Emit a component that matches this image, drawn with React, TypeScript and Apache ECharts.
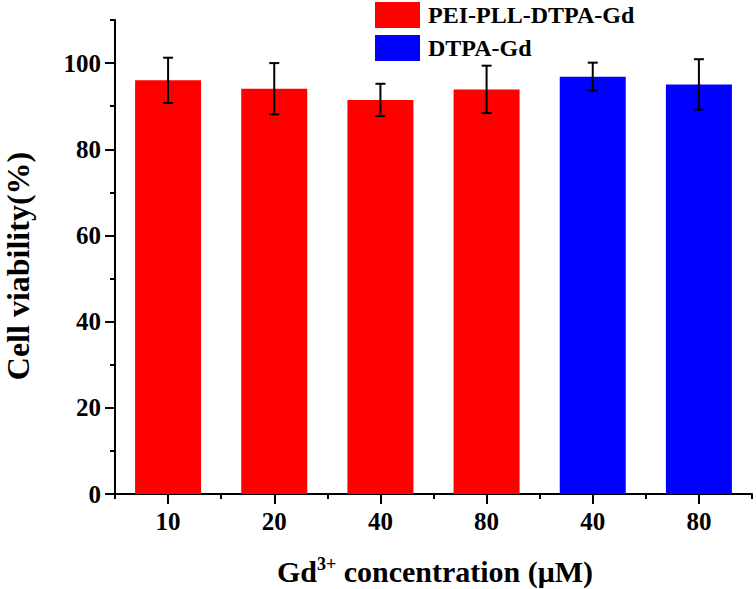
import React, { useEffect, useRef } from "react";
import * as echarts from "echarts";

const categories = ["10", "20", "40", "80", "40", "80"];
const peiValues: (number | string)[] = [96.0, 94.05, 91.45, 93.9, "-", "-"];
const dtpaValues: (number | string)[] = ["-", "-", "-", "-", 96.85, 95.05];
const means = [96.0, 94.05, 91.45, 93.9, 96.85, 95.05];
const errors = [5.25, 5.95, 3.75, 5.5, 3.25, 5.85];
const majorYTicks = [0, 20, 40, 60, 80, 100];
const minorYTicks = [10, 30, 50, 70, 90, 110];
const seriesNames = ["PEI-PLL-DTPA-Gd", "DTPA-Gd"];

const FONT = "'Liberation Serif', 'Times New Roman', serif";

export default function App() {
  const ref = useRef<HTMLDivElement>(null);
  useEffect(() => {
    if (!ref.current) return;
    const chart = echarts.init(ref.current, null, { renderer: "svg" });
    const errData = means.map((m, i) => [i, m - errors[i], m + errors[i]]);
    chart.setOption({
      animation: false,
      backgroundColor: "#ffffff",
      grid: { left: 115, right: 4, top: 20, bottom: 95, containLabel: false, outerBoundsMode: "none" },
      legend: {
        orient: "vertical",
        left: 375,
        top: 2,
        padding: 0,
        itemWidth: 45,
        itemHeight: 26,
        itemGap: 7,
        icon: "rect",
        data: seriesNames,
        textStyle: { fontFamily: FONT, fontWeight: "bold", fontSize: 24, color: "#000", padding: [0, 0, 0, 3] },
      },
      xAxis: [
        {
          type: "category",
          data: categories,
          position: "bottom",
          axisLine: { show: true, lineStyle: { color: "#000", width: 2 } },
          axisTick: { show: true, alignWithLabel: true, length: 10, lineStyle: { color: "#000", width: 2 } },
          axisLabel: { fontFamily: FONT, fontWeight: "bold", fontSize: 25, color: "#000", margin: 15 },
          splitLine: { show: false },
        },
        {
          type: "value",
          position: "bottom",
          min: 0,
          max: 6,
          interval: 1,
          axisLine: { show: false },
          axisTick: { show: true, length: 5, lineStyle: { color: "#000", width: 2 } },
          axisLabel: { show: false },
          splitLine: { show: false },
        },
      ],
      yAxis: [
        {
          type: "value",
          min: 0,
          max: 110,
          interval: 10,
          position: "left",
          axisLine: { show: true, lineStyle: { color: "#000", width: 2 } },
          axisTick: { show: true, length: 10, customValues: majorYTicks, lineStyle: { color: "#000", width: 2 } },
          axisLabel: { customValues: majorYTicks, fontFamily: FONT, fontWeight: "bold", fontSize: 25, color: "#000", margin: 14 },
          splitLine: { show: false },
        },
        {
          type: "value",
          min: 0,
          max: 110,
          interval: 10,
          position: "left",
          axisLine: { show: false },
          axisTick: { show: true, length: 5, customValues: minorYTicks, lineStyle: { color: "#000", width: 2 } },
          axisLabel: { show: false },
          splitLine: { show: false },
        },
      ],
      graphic: [
        {
          type: "text",
          x: 18,
          y: 266,
          rotation: Math.PI / 2,
          style: {
            text: "Cell viability(%)",
            fontFamily: FONT,
            fontWeight: "bold",
            fontSize: 32,
            fill: "#000",
            textAlign: "center",
            textVerticalAlign: "middle",
          },
        },
        {
          type: "text",
          x: 435,
          y: 571,
          style: {
            text: "{a|Gd}{s|3+}{a| concentration (μM)}",
            textAlign: "center",
            textVerticalAlign: "middle",
            fill: "#000",
            rich: {
              a: { fontFamily: FONT, fontWeight: "bold", fontSize: 30, fill: "#000", lineHeight: 34 },
              s: { fontFamily: FONT, fontWeight: "bold", fontSize: 18, fill: "#000", padding: [0, 0, 14, 0] },
            },
          },
        },
      ],
      series: [
        {
          name: seriesNames[0],
          type: "bar",
          data: peiValues,
          barWidth: 66,
          barGap: "-100%",
          itemStyle: { color: "#ff0000" },
          xAxisIndex: 0,
          yAxisIndex: 0,
        },
        {
          name: seriesNames[1],
          type: "bar",
          data: dtpaValues,
          barWidth: 66,
          barGap: "-100%",
          itemStyle: { color: "#0000ff" },
          xAxisIndex: 0,
          yAxisIndex: 0,
        },
        {
          type: "custom",
          xAxisIndex: 0,
          yAxisIndex: 0,
          z: 10,
          data: errData,
          encode: { x: 0, y: [1, 2] },
          renderItem: (params: any, api: any) => {
            const i = api.value(0);
            const lo = api.coord([i, api.value(1)]);
            const hi = api.coord([i, api.value(2)]);
            const hw = 5;
            const style = { stroke: "#000", lineWidth: 2, fill: "none" };
            return {
              type: "group",
              children: [
                { type: "line", shape: { x1: lo[0], y1: lo[1], x2: hi[0], y2: hi[1] }, style },
                { type: "line", shape: { x1: hi[0] - hw, y1: hi[1], x2: hi[0] + hw, y2: hi[1] }, style },
                { type: "line", shape: { x1: lo[0] - hw, y1: lo[1], x2: lo[0] + hw, y2: lo[1] }, style },
              ],
            };
          },
        },
      ],
    });
    return () => chart.dispose();
  }, []);
  return <div ref={ref} style={{ position: "fixed", left: 0, top: 0, width: 756, height: 589 }} />;
}
